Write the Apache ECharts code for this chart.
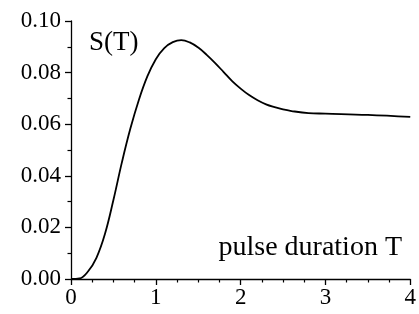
<!DOCTYPE html>
<html>
<head>
<meta charset="utf-8">
<script src="https://cdn.jsdelivr.net/npm/echarts@6/dist/echarts.min.js"></script>
<style>
  html, body { margin: 0; padding: 0; background: #fff; }
  #chart { width: 419px; height: 314px; }
</style>
</head>
<body>
<div id="chart"></div>
<script>
// pulse duration T and signal S(T)
var tValues = [0, 0.1, 0.2, 0.3, 0.4, 0.5, 0.6, 0.7, 0.8, 0.9, 1.0, 1.1, 1.2, 1.3, 1.4, 1.5, 1.6, 1.7, 1.8, 1.9, 2.0, 2.1, 2.2, 2.3, 2.4, 2.5, 2.6, 2.8, 3.0, 3.5, 4.0];
var sValues = [0, 0.0002, 0.0029, 0.0082, 0.0174, 0.0306, 0.0452, 0.0583, 0.0694, 0.0785, 0.0852, 0.0895, 0.0918, 0.0926, 0.0917, 0.0897, 0.0869, 0.0837, 0.0802, 0.0767, 0.0738, 0.0713, 0.0693, 0.0677, 0.0666, 0.0657, 0.0651, 0.0643, 0.0641, 0.0636, 0.0628];
var xTicks = [0, 1, 2, 3, 4];
var yTicks = [0, 0.02, 0.04, 0.06, 0.08, 0.10];

var points = [];
for (var i = 0; i < tValues.length; i++) {
    points.push([tValues[i], sValues[i]]);
}

var font = '"Liberation Serif", "Times New Roman", serif';
var chart = echarts.init(document.getElementById('chart'), null, { renderer: 'canvas' });

chart.setOption({
    animation: false,
    grid: { left: 71, right: 8, top: 21, bottom: 35 },
    xAxis: {
        type: 'value',
        min: xTicks[0],
        max: xTicks[xTicks.length - 1],
        interval: 1,
        splitLine: { show: false },
        axisLine: { onZero: false, lineStyle: { color: '#000', width: 1.3 } },
        axisTick: { length: 6, lineStyle: { color: '#000', width: 1.3 } },
        minorTick: { show: true, splitNumber: 4, length: 3.5, lineStyle: { color: '#000', width: 1.2 } },
        axisLabel: { color: '#000', fontFamily: font, fontSize: 23, margin: 7 }
    },
    yAxis: {
        type: 'value',
        min: yTicks[0],
        max: yTicks[yTicks.length - 1],
        interval: 0.02,
        splitLine: { show: false },
        axisLine: { show: true, onZero: false, lineStyle: { color: '#000', width: 1.3 } },
        axisTick: { show: true, length: 6, lineStyle: { color: '#000', width: 1.3 } },
        minorTick: { show: true, splitNumber: 2, length: 3.5, lineStyle: { color: '#000', width: 1.2 } },
        axisLabel: {
            color: '#000', fontFamily: font, fontSize: 23, margin: 10,
            formatter: function (v) { return v.toFixed(2); }
        }
    },
    series: [{
        type: 'line',
        data: points,
        smooth: 0.4,
        showSymbol: false,
        lineStyle: { color: '#000', width: 1.8 }
    }],
    graphic: [
        {
            type: 'text', left: 89, top: 29,
            style: { text: 'S(T)', font: '27px ' + font, fill: '#000' }
        },
        {
            type: 'text', right: 17, top: 234,
            style: { text: 'pulse duration T', font: '28px ' + font, fill: '#000' }
        }
    ]
});
</script>
</body>
</html>
